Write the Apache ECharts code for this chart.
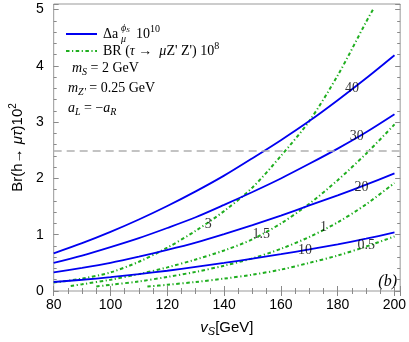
<!DOCTYPE html>
<html><head><meta charset="utf-8">
<script src="https://cdn.jsdelivr.net/npm/echarts@6/dist/echarts.min.js"></script>
<style>html,body{margin:0;padding:0;background:#fff}#c{width:409px;height:342px}</style>
</head><body><div id="c"></div>
<script>
// ---- data ----
const xBlue = [80, 90, 100, 110, 120, 130, 140, 150, 160, 170, 180, 190, 200];
const blue10 = [0.16, 0.20, 0.245, 0.30, 0.36, 0.43, 0.50, 0.575, 0.655, 0.74, 0.83, 0.93, 1.04];
const blue20 = [0.33, 0.41, 0.50, 0.61, 0.73, 0.86, 1.01, 1.17, 1.34, 1.52, 1.70, 1.89, 2.09];
const blue30 = [0.50, 0.63, 0.78, 0.94, 1.12, 1.31, 1.53, 1.76, 2.00, 2.26, 2.53, 2.82, 3.14];
const blue40 = [0.67, 0.85, 1.05, 1.27, 1.51, 1.77, 2.05, 2.36, 2.68, 3.02, 3.39, 3.78, 4.19];

const xGreen3 = [80, 90, 100, 110, 120, 130, 140, 150, 160, 170, 180, 190, 192.4];
const green3 = [0.15, 0.22, 0.33, 0.52, 0.77, 1.07, 1.42, 1.84, 2.40, 3.02, 3.83, 4.78, 5.0];
const xGreen15 = [86, 90, 100, 110, 120, 130, 140, 150, 160, 170, 180, 190, 200];
const green15 = [0.09, 0.12, 0.20, 0.30, 0.42, 0.56, 0.72, 0.92, 1.20, 1.55, 1.97, 2.44, 2.96];
const xGreen1 = [95, 100, 110, 120, 130, 140, 150, 160, 170, 180, 190, 200];
const green1 = [0.08, 0.11, 0.17, 0.25, 0.34, 0.45, 0.58, 0.75, 0.96, 1.22, 1.54, 1.92];
const xGreen05 = [113, 120, 130, 140, 150, 160, 170, 180, 190, 200];
const green05 = [0.08, 0.11, 0.16, 0.22, 0.29, 0.38, 0.50, 0.63, 0.79, 0.97];

const limitY = 2.5;

// curve labels: [x, y, text]
const curveLabels = [
  [185.0, 3.60, '40'], [186.7, 2.74, '30'], [188.4, 1.85, '20'], [168.5, 0.72, '10'],
  [190.1, 0.82, '0.5'], [175.0, 1.14, '1'], [153.1, 1.01, '1.5'], [134.4, 1.19, '3']
];

const xTickLabels = [80, 100, 120, 140, 160, 180, 200];
const yTickLabels = [0, 1, 2, 3, 4, 5];

// ---- chart ----
const BLUE = '#0000f0', GREEN = '#1fae1f', TICK = '#8a8a8a';
const SERIF = '"Liberation Serif", "Times New Roman", serif';
const SANS = '"Liberation Sans", Arial, sans-serif';
const zip = (xs, ys) => xs.map((x, i) => [x, ys[i]]);

function xAxisDef(pos, interval, len, labels, extra) {
  return Object.assign({
    type: 'value', min: 80, max: 202, interval: interval, position: pos,
    axisLine: { show: false }, splitLine: { show: false },
    axisTick: { inside: true, length: len, lineStyle: { color: TICK, width: 1 } },
    axisLabel: labels ? {
      show: true, margin: 7, color: '#000', fontSize: 14, fontFamily: SANS,
      formatter: v => xTickLabels.indexOf(Math.round(v * 1000) / 1000) >= 0 ? String(v) : ''
    } : { show: false }
  }, extra || {});
}
function yAxisDef(pos, interval, len, labels, extra) {
  return Object.assign({
    type: 'value', min: 0, max: 5.1, interval: interval, position: pos,
    axisLine: { show: false }, splitLine: { show: false },
    axisTick: { inside: true, length: len, lineStyle: { color: TICK, width: 1 } },
    axisLabel: labels ? {
      show: true, margin: 10, color: '#000', fontSize: 14, fontFamily: SANS,
      formatter: v => yTickLabels.indexOf(Math.round(v * 1000) / 1000) >= 0 ? String(v) : ''
    } : { show: false }
  }, extra || {});
}

function blueSeries(data) {
  return { type: 'line', data: zip(xBlue, data), showSymbol: false, smooth: 0.3,
    lineStyle: { color: BLUE, width: 1.8 }, itemStyle: { color: BLUE }, z: 3, silent: true };
}
function greenSeries(xs, data) {
  return { type: 'line', data: zip(xs, data), showSymbol: false, smooth: 0.3,
    lineStyle: { color: GREEN, width: 2, type: [3.5, 2.5, 1.2, 2.5] }, itemStyle: { color: GREEN }, z: 2, silent: true };
}

const series = [
  blueSeries(blue10), blueSeries(blue20), blueSeries(blue30),
  Object.assign(blueSeries(blue40), {
    markLine: { silent: true, symbol: ['none', 'none'], label: { show: false },
      lineStyle: { color: '#b0b0b0', type: [8, 5], width: 1.6 }, data: [{ yAxis: limitY }] }
  }),
  greenSeries(xGreen3, green3), greenSeries(xGreen15, green15),
  greenSeries(xGreen1, green1), greenSeries(xGreen05, green05),
  { type: 'scatter', symbolSize: 1, itemStyle: { color: 'rgba(0,0,0,0)' }, z: 5, silent: true,
    data: curveLabels.map(d => ({ value: [d[0], d[1]], name: d[2] })),
    label: { show: true, position: 'inside', formatter: p => p.name, color: '#000',
      fontSize: 14, fontFamily: SERIF } }
];

const legendRich = {
  r: { fontSize: 14, fontFamily: SERIF, color: '#000' },
  i: { fontSize: 14, fontFamily: SERIF, fontStyle: 'italic', color: '#000' },
  sub: { fontSize: 10, fontFamily: SERIF, fontStyle: 'italic', color: '#000', padding: [8, 0, 0, 0] },
  sup: { fontSize: 10, fontFamily: SERIF, color: '#000', padding: [0, 0, 9, 0] }
};

const graphic = [
  { type: 'line', shape: { x1: 66, y1: 34, x2: 97, y2: 34 }, style: { stroke: BLUE, lineWidth: 2 } },
  { type: 'line', shape: { x1: 66, y1: 51, x2: 97, y2: 51 }, style: { stroke: GREEN, lineWidth: 2, lineDash: [3.5, 2.5, 1.2, 2.5] } },
  { type: 'text', x: 103, y: 34, style: { text: '\u0394a', font: '14px ' + SERIF, fill: '#000', verticalAlign: 'middle' } },
  { type: 'text', x: 121, y: 28, style: { text: '{i|\u03d5}{s|S}', verticalAlign: 'middle',
      rich: { i: { fontSize: 10, fontFamily: SERIF, fontStyle: 'italic' }, s: { fontSize: 7, fontFamily: SERIF, fontStyle: 'italic', padding: [4, 0, 0, 0] } } } },
  { type: 'text', x: 121, y: 39, style: { text: '\u03bc', font: 'italic 10px ' + SERIF, fill: '#000', verticalAlign: 'middle' } },
  { type: 'text', x: 136, y: 34, style: { text: '10', font: '14px ' + SERIF, fill: '#000', verticalAlign: 'middle' } },
  { type: 'text', x: 150, y: 29, style: { text: '10', font: '10px ' + SERIF, fill: '#000', verticalAlign: 'middle' } },
  { type: 'text', x: 103, y: 51, style: { text: '{r|BR (}{i|\u03c4}{r| \u2192  }{i|\u03bc}{r|Z\' Z\') 10}{sup|8}', verticalAlign: 'middle', rich: legendRich } },
  { type: 'text', x: 72, y: 68, style: { text: '{i|m}{sub|S}{r| = 2 GeV}', verticalAlign: 'middle', rich: legendRich } },
  { type: 'text', x: 68, y: 88, style: { text: '{i|m}{sub|Z\'}{r| = 0.25 GeV}', verticalAlign: 'middle', rich: legendRich } },
  { type: 'text', x: 68, y: 108, style: { text: '{i|a}{sub|L}{r| = \u2212}{i|a}{sub|R}', verticalAlign: 'middle', rich: legendRich } },
  { type: 'text', right: 12, bottom: 52, style: { text: '(b)', font: 'italic 16px ' + SERIF, fill: '#000' } }
];

const chart = echarts.init(document.getElementById('c'), null, { renderer: 'canvas' });
chart.setOption({
  animation: false,
  backgroundColor: '#fff',
  grid: { left: 44, right: 7.5, top: 4, bottom: 47, show: true, borderColor: '#999', borderWidth: 1, containLabel: false },
  xAxis: [
    xAxisDef('bottom', 20, 5, true, {
      name: '{i|v}{sub|S}{r|[GeV]}', nameLocation: 'middle', nameGap: 27,
      nameTextStyle: { rich: {
        r: { fontSize: 15, fontFamily: SANS, color: '#000' },
        i: { fontSize: 15, fontFamily: SANS, fontStyle: 'italic', color: '#000' },
        sub: { fontSize: 11, fontFamily: SANS, fontStyle: 'italic', color: '#000', padding: [8, 0, 0, 0] } } }
    }),
    xAxisDef('top', 20, 5, false),
    xAxisDef('top', 5, 3, false),
    xAxisDef('bottom', 5, 3, false)
  ],
  yAxis: [
    yAxisDef('left', 1, 5, true, {
      name: '{r|Br(h\u2192 }{i|\u03bc\u03c4}{r|)10}{sup|2}', nameLocation: 'middle', nameGap: 24,
      nameTextStyle: { rich: {
        r: { fontSize: 15, fontFamily: SANS, color: '#000' },
        i: { fontSize: 15, fontFamily: SANS, fontStyle: 'italic', color: '#000' },
        sup: { fontSize: 10, fontFamily: SANS, color: '#000', padding: [0, 0, 9, 0] } } }
    }),
    yAxisDef('right', 1, 5, false),
    yAxisDef('right', 0.2, 3, false),
    yAxisDef('left', 0.2, 3, false)
  ],
  series: series,
  graphic: graphic
});
</script>
</body></html>
